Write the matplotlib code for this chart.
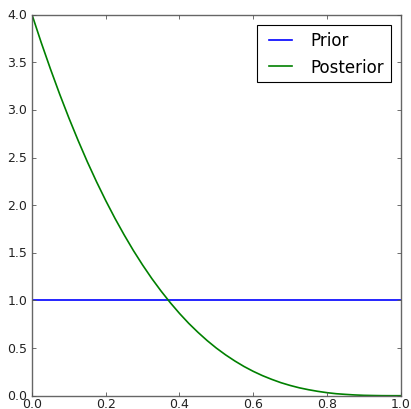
import numpy as np
import matplotlib
matplotlib.use("Agg")
import matplotlib.pyplot as plt

x = np.linspace(0, 1, 41)
prior = [1.0] * 41
posterior = [4.000, 3.707, 3.430, 3.166, 2.916, 2.680, 2.456, 2.246, 2.048, 1.862,
             1.688, 1.524, 1.372, 1.230, 1.099, 0.977, 0.864, 0.760, 0.666, 0.579,
             0.500, 0.429, 0.365, 0.307, 0.256, 0.211, 0.172, 0.137, 0.108, 0.083,
             0.063, 0.046, 0.032, 0.021, 0.014, 0.008, 0.004, 0.002, 0.0005, 0.0001, 0.000]
labels = ["Prior", "Posterior"]
yticks = [0.0, 0.5, 1.0, 1.5, 2.0, 2.5, 3.0, 3.5, 4.0]
xticks = [0.0, 0.2, 0.4, 0.6, 0.8, 1.0]

plt.style.use("classic")
fig = plt.figure(figsize=(4.11, 4.10), dpi=100)
ax = fig.add_axes([0.0779, 0.0324, 0.897, 0.9293])
ax.plot(x, prior, color="b", lw=1.2, label=labels[0])
ax.plot(x, posterior, color="g", lw=1.2, label=labels[1])
ax.set_xlim(0, 1)
ax.set_ylim(0, 4)
ax.set_xticks(xticks)
ax.set_yticks(yticks)
ax.set_xticklabels([f"{t:.1f}" for t in xticks])
ax.set_yticklabels([f"{t:.1f}" for t in yticks])
ax.tick_params(labelsize=9, colors="#555555", labelcolor="#222222", size=3, width=0.6)
ax.tick_params(axis="x", pad=1.2)
ax.tick_params(axis="y", pad=3.5)
for s in ax.spines.values():
    s.set_color("#666666")
leg = ax.legend(loc="upper right", fontsize=12, borderaxespad=0.6)
leg.get_frame().set_linewidth(0.8)
fig.savefig("out.png", dpi=100)
